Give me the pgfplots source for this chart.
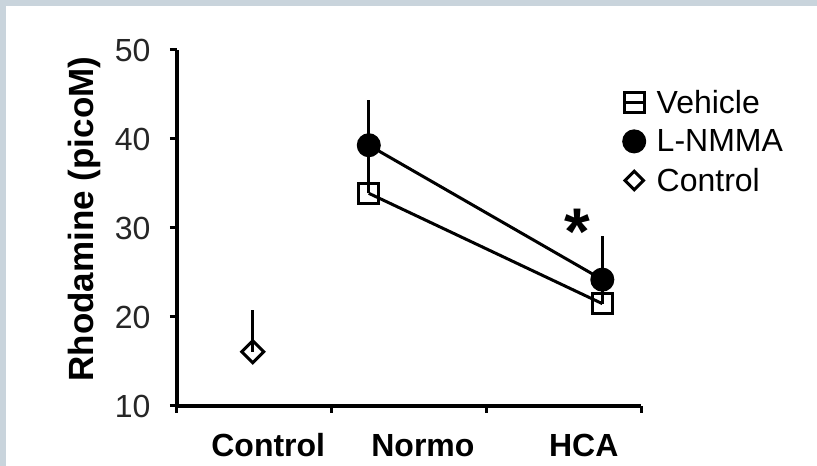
\documentclass[border=0pt]{standalone}
\usepackage{pgfplots}
\usepackage{pgfplotstable}
\pgfplotsset{compat=1.18}
\usepackage{fontspec}
\setmainfont{Liberation Sans}
\definecolor{framebg}{RGB}{201,212,220}

% x: position along the axis, y: mean, ey: upper error
\pgfplotstableread{
x    y    ey
1.24 33.9 5.5
2.75 21.5 2.7
}\vehicle
\pgfplotstableread{
x    y    ey
1.24 39.3 5.1
2.75 24.2 4.9
}\lnmma
\pgfplotstableread{
x    y    ey
0.49 16.1 4.7
}\control

\begin{document}
\begin{tikzpicture}
\useasboundingbox (0pt,0pt) rectangle (817pt,466pt);
\fill[framebg] (0pt,0pt) rectangle (817pt,466pt);
\fill[white] (6pt,0pt) rectangle (817pt,460pt);
\begin{axis}[
  at={(177pt,60pt)}, anchor=south west,
  scale only axis, width=464pt, height=356pt,
  xmin=0, xmax=3, ymin=10, ymax=50,
  axis x line=bottom, axis y line=left,
  axis line style={-, line width=3.2pt, black},
  xtick={0,1,2,3}, xticklabels={},
  ytick={10,20,30,40,50},
  tick align=outside, major tick length=7pt,
  every tick/.style={line width=3pt, black},
  /pgf/number format/assume math mode=true,
  yticklabel style={font=\fontsize{32}{36}\selectfont, xshift=-16pt, text=black!85},
  ylabel={\textbf{Rhodamine (picoM)}},
  ylabel style={font=\fontsize{35}{40}\selectfont, at={(axis description cs:-0.2,0.525)}, anchor=center},
  clip=false,
  error bars/error bar style={line width=3pt, black},
  error bars/error mark=none,
  legend style={at={(0.958,0.894)}, anchor=north west, draw=none, fill=none,
    font=\fontsize{32}{36}\selectfont, row sep=11pt, inner sep=0pt,
    /tikz/every odd column/.append style={column sep=8pt}},
  legend cell align=left,
  legend image code/.code={\draw[mark repeat=2,mark phase=2] plot coordinates {(0pt,0pt)(11pt,0pt)(22pt,0pt)};},
]
\addplot[black, line width=3pt, mark=square, mark size=10pt,
  mark options={line width=3pt, fill=none},
  error bars/.cd, y dir=plus, y explicit]
  table[x=x, y=y, y error=ey] {\vehicle};
\addlegendentry{Vehicle}
\addplot[black, line width=3pt, mark=*, mark size=10.5pt,
  mark options={fill=black},
  error bars/.cd, y dir=plus, y explicit]
  table[x=x, y=y, y error=ey] {\lnmma};
\addlegendentry{L-NMMA}
\addplot[black, only marks, mark=square, mark size=7.8pt,
  mark options={rotate=45, line width=3pt, fill=none},
  legend image code/.code={\draw[only marks, mark size=6.5pt] plot coordinates {(11pt,0pt)};},
  error bars/.cd, y dir=plus, y explicit]
  table[x=x, y=y, y error=ey] {\control};
\addlegendentry{Control}

% group names under the axis
\node[anchor=base, font=\fontsize{32}{36}\selectfont\bfseries] at (axis cs:0.59,10) [yshift=-50pt] {Control};
\node[anchor=base, font=\fontsize{32}{36}\selectfont\bfseries] at (axis cs:1.59,10) [yshift=-50pt] {Normo};
\node[anchor=base, font=\fontsize{32}{36}\selectfont\bfseries] at (axis cs:2.63,10) [yshift=-50pt] {HCA};
% significance marker
\node[anchor=base, inner sep=0pt, font=\fontsize{66}{70}\selectfont\bfseries] at (axis cs:2.59,27.0) {*};
\end{axis}
\end{tikzpicture}
\end{document}
